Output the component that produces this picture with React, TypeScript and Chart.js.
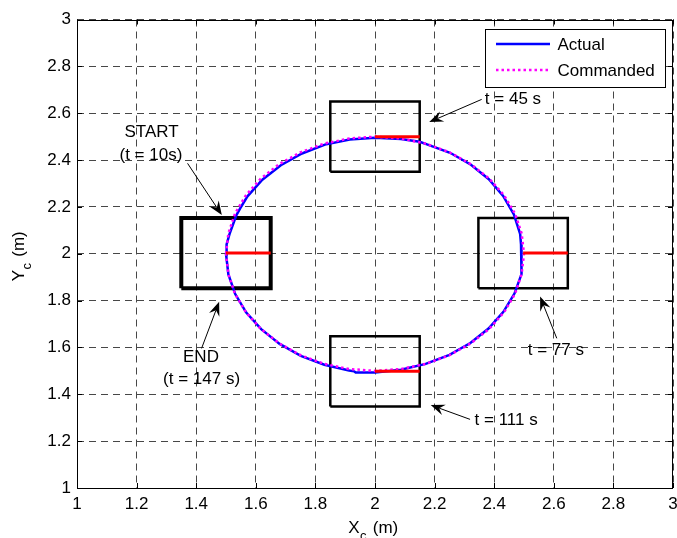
import React, { useEffect, useRef } from 'react';
import { Chart, registerables } from 'chart.js';

Chart.register(...registerables);

// ---------- data ----------
const xTickLabels = ['1', '1.2', '1.4', '1.6', '1.8', '2', '2.2', '2.4', '2.6', '2.8', '3'];
const yTickLabels = ['1', '1.2', '1.4', '1.6', '1.8', '2', '2.2', '2.4', '2.6', '2.8', '3'];

// commanded circular path
const commandedX = [1.5, 1.508, 1.530, 1.567, 1.617, 1.679, 1.75, 1.829, 1.913, 2.0, 2.087, 2.171, 2.25, 2.321, 2.383, 2.433, 2.470, 2.492, 2.5, 2.492, 2.470, 2.433, 2.383, 2.321, 2.25, 2.171, 2.087, 2.0, 1.913, 1.829, 1.75, 1.679, 1.617, 1.567, 1.530, 1.508, 1.5];
const commandedY = [2.0, 2.087, 2.171, 2.25, 2.321, 2.383, 2.433, 2.470, 2.492, 2.5, 2.492, 2.470, 2.433, 2.383, 2.321, 2.25, 2.171, 2.087, 2.0, 1.913, 1.829, 1.75, 1.679, 1.617, 1.567, 1.530, 1.508, 1.5, 1.508, 1.530, 1.567, 1.617, 1.679, 1.75, 1.829, 1.913, 2.0];

// actual measured path
const actualX = [1.500, 1.502, 1.512, 1.535, 1.548, 1.572, 1.622, 1.684, 1.755, 1.832, 1.915, 2.000, 2.087, 2.150, 2.172, 2.252, 2.322, 2.382, 2.430, 2.466, 2.487, 2.490, 2.492, 2.493, 2.490, 2.468, 2.431, 2.381, 2.320, 2.250, 2.170, 2.087, 2.000, 1.935, 1.930, 1.913, 1.830, 1.751, 1.680, 1.618, 1.568, 1.531, 1.508, 1.500];
const actualY = [1.995, 2.040, 2.085, 2.165, 2.195, 2.245, 2.316, 2.378, 2.428, 2.466, 2.488, 2.495, 2.490, 2.478, 2.468, 2.431, 2.380, 2.318, 2.247, 2.168, 2.085, 2.040, 2.000, 1.960, 1.913, 1.830, 1.752, 1.681, 1.619, 1.568, 1.530, 1.505, 1.493, 1.493, 1.498, 1.502, 1.526, 1.564, 1.615, 1.678, 1.749, 1.828, 1.912, 2.000];

// robot poses at the marked times (t = 10/147, 45, 77, 111 s)
const poseX = [1.5, 2.0, 2.497, 2.0];
const poseY = [2.003, 2.5, 2.003, 1.498];
const poseHalfSize = 0.15;

// annotation texts (data coordinates, centred)
const annoText = ['START', '(t = 10s)', 't = 45 s', 't = 77 s', 't = 111 s', 'END', '(t = 147 s)'];
const annoX = [1.25, 1.248, 2.463, 2.607, 2.440, 1.416, 1.418];
const annoY = [2.520, 2.419, 2.661, 1.589, 1.290, 1.558, 1.464];

// annotation arrows (tail -> head), data coordinates
const arrowTailX = [1.371, 2.358, 2.610, 2.319, 1.418];
const arrowTailY = [2.386, 2.659, 1.639, 1.293, 1.596];
const arrowHeadX = [1.486, 2.182, 2.554, 2.187, 1.477];
const arrowHeadY = [2.165, 2.562, 1.817, 1.354, 1.795];

const legendLabels = ['Actual', 'Commanded'];

const FONT = "'Liberation Sans', Arial, Helvetica, sans-serif";

const zip = (xs: number[], ys: number[]) => xs.map((x, i) => ({ x, y: ys[i] }));

function squarePts(cx: number, cy: number, h: number) {
  return [
    { x: cx - h, y: cy - h },
    { x: cx + h, y: cy - h },
    { x: cx + h, y: cy + h },
    { x: cx - h, y: cy + h },
    { x: cx - h, y: cy - h },
  ];
}

const overlayPlugin = {
  id: 'overlay',
  afterDraw(chart: any) {
    const { ctx, chartArea: a } = chart;
    const xs = chart.scales.x;
    const ys = chart.scales.y;
    ctx.save();
    ctx.setLineDash([]);

    // frame
    ctx.strokeStyle = '#000';
    ctx.lineWidth = 1;
    ctx.strokeRect(Math.round(a.left) + 0.5, Math.round(a.top) + 0.5, Math.round(a.right - a.left) - 1, Math.round(a.bottom - a.top) - 1);

    // inward ticks
    const tl = 5;
    ctx.beginPath();
    xs.ticks.forEach((t: any) => {
      const px = Math.round(xs.getPixelForValue(t.value)) + 0.5;
      ctx.moveTo(px, a.bottom); ctx.lineTo(px, a.bottom - tl);
      ctx.moveTo(px, a.top); ctx.lineTo(px, a.top + tl);
    });
    ys.ticks.forEach((t: any) => {
      const py = Math.round(ys.getPixelForValue(t.value)) + 0.5;
      ctx.moveTo(a.left, py); ctx.lineTo(a.left + tl, py);
      ctx.moveTo(a.right, py); ctx.lineTo(a.right - tl, py);
    });
    ctx.stroke();

    // annotation texts
    ctx.fillStyle = '#000';
    ctx.font = `17px ${FONT}`;
    ctx.textAlign = 'center';
    ctx.textBaseline = 'middle';
    annoText.forEach((s, i) => {
      ctx.fillText(s, xs.getPixelForValue(annoX[i]), ys.getPixelForValue(annoY[i]));
    });

    // arrows
    arrowTailX.forEach((_, i) => {
      const x0 = xs.getPixelForValue(arrowTailX[i]);
      const y0 = ys.getPixelForValue(arrowTailY[i]);
      const x1 = xs.getPixelForValue(arrowHeadX[i]);
      const y1 = ys.getPixelForValue(arrowHeadY[i]);
      const ang = Math.atan2(y1 - y0, x1 - x0);
      const L = 14, W = 5.5, N = 9;
      ctx.lineWidth = 1;
      ctx.strokeStyle = '#000';
      ctx.beginPath();
      ctx.moveTo(x0, y0);
      ctx.lineTo(x1 - N * Math.cos(ang), y1 - N * Math.sin(ang));
      ctx.stroke();
      const bx = x1 - L * Math.cos(ang), by = y1 - L * Math.sin(ang);
      const nx = -Math.sin(ang), ny = Math.cos(ang);
      ctx.beginPath();
      ctx.moveTo(x1, y1);
      ctx.lineTo(bx + W * nx, by + W * ny);
      ctx.lineTo(x1 - N * Math.cos(ang), y1 - N * Math.sin(ang));
      ctx.lineTo(bx - W * nx, by - W * ny);
      ctx.closePath();
      ctx.fill();
    });

    // legend
    const lx = a.right - 188, ly = a.top + 9.5, lw = 179.5, lh = 58;
    ctx.fillStyle = '#fff';
    ctx.fillRect(lx, ly, lw, lh);
    ctx.strokeStyle = '#000';
    ctx.lineWidth = 1;
    ctx.strokeRect(Math.round(lx) + 0.5, Math.round(ly) + 0.5, Math.round(lw), Math.round(lh));
    const rows = [ly + 15, ly + 41];
    ctx.lineWidth = 2.5;
    ctx.strokeStyle = '#0000ff';
    ctx.beginPath(); ctx.moveTo(lx + 11, rows[0]); ctx.lineTo(lx + 65, rows[0]); ctx.stroke();
    ctx.strokeStyle = '#ff00ff';
    ctx.setLineDash([2.5, 3]);
    ctx.beginPath(); ctx.moveTo(lx + 11, rows[1]); ctx.lineTo(lx + 65, rows[1]); ctx.stroke();
    ctx.setLineDash([]);
    ctx.fillStyle = '#000';
    ctx.textAlign = 'left';
    ctx.textBaseline = 'middle';
    legendLabels.forEach((s, i) => ctx.fillText(s, lx + 72.5, rows[i] + 1));

    // axis titles with subscripts
    const drawTitle = (main: string, sub: string, rest: string) => {
      ctx.font = `17px ${FONT}`;
      const w1 = ctx.measureText(main).width;
      const w3 = ctx.measureText(rest).width;
      ctx.font = `13px ${FONT}`;
      const w2 = ctx.measureText(sub).width + 1.5;
      const total = w1 + w2 + w3;
      let x = -total / 2;
      ctx.textAlign = 'left';
      ctx.textBaseline = 'alphabetic';
      ctx.font = `17px ${FONT}`;
      ctx.fillText(main, x, 0); x += w1 + 0.5;
      ctx.font = `13px ${FONT}`;
      ctx.fillText(sub, x, 6.5); x += w2;
      ctx.font = `17px ${FONT}`;
      ctx.fillText(rest, x, 0);
    };
    ctx.fillStyle = '#000';
    ctx.save();
    ctx.translate((a.left + a.right) / 2 - 2, 533);
    drawTitle('X', 'c', ' (m)');
    ctx.restore();
    ctx.save();
    ctx.translate(24, 256.5);
    ctx.rotate(-Math.PI / 2);
    drawTitle('Y', 'c', ' (m)');
    ctx.restore();

    ctx.restore();
  },
};

export default function App() {
  const ref = useRef<HTMLCanvasElement | null>(null);
  useEffect(() => {
    document.body.style.margin = '0';
    if (!ref.current) return;
    Chart.defaults.font.family = FONT;
    Chart.defaults.font.size = 17;
    Chart.defaults.color = '#000';

    const squares = poseX.map((px, i) => ({
      label: 'pose' + i,
      data: squarePts(px, poseY[i], poseHalfSize),
      borderColor: '#000',
      borderWidth: i === 0 ? 4 : 2.5,
      showLine: true,
      pointRadius: 0,
      fill: false,
      tension: 0,
      order: 3,
      borderJoinStyle: 'miter' as const,
    }));
    const headings = poseX.map((px, i) => ({
      label: 'heading' + i,
      data: [{ x: px, y: poseY[i] }, { x: px + poseHalfSize, y: poseY[i] }],
      borderColor: '#ff0000',
      borderWidth: 3,
      showLine: true,
      pointRadius: 0,
      fill: false,
      order: -1,
    }));

    const chart = new Chart(ref.current, {
      type: 'scatter',
      data: {
        datasets: [
          {
            label: 'Commanded',
            data: zip(commandedX, commandedY),
            borderColor: '#ff00ff',
            borderWidth: 2.5,
            borderDash: [2.5, 3],
            showLine: true,
            pointRadius: 0,
            fill: false,
            order: 0,
          },
          {
            label: 'Actual',
            data: zip(actualX, actualY),
            borderColor: '#0000ff',
            borderWidth: 2.5,
            showLine: true,
            pointRadius: 0,
            fill: false,
            order: 1,
          },
          ...squares,
          ...headings,
        ] as any,
      },
      options: {
        animation: false,
        responsive: false,
        events: [],
        layout: { padding: { top: 19.5, right: 4, left: 0, bottom: 0 } },
        plugins: { legend: { display: false }, tooltip: { enabled: false } },
        scales: {
          x: {
            type: 'linear',
            min: 1,
            max: 3,
            afterFit: (s: any) => { s.height = 50; s.paddingLeft = 0; s.paddingRight = 0; },
            ticks: {
              stepSize: 0.2,
              padding: 6,
              maxRotation: 0,
              autoSkip: false,
              font: { size: 17, family: FONT },
              color: '#000',
              callback: (v: any) => xTickLabels[Math.round((Number(v) - 1) / 0.2)] ?? '',
            },
            grid: { color: 'rgba(0,0,0,0.72)', lineWidth: 1, drawTicks: false },
            border: { display: false, dash: [7, 5] },
          },
          y: {
            type: 'linear',
            min: 1,
            max: 3,
            afterFit: (s: any) => { s.width = 77; s.paddingTop = 0; s.paddingBottom = 0; },
            ticks: {
              stepSize: 0.2,
              padding: 6,
              autoSkip: false,
              font: { size: 17, family: FONT },
              color: '#000',
              callback: (v: any) => yTickLabels[Math.round((Number(v) - 1) / 0.2)] ?? '',
            },
            grid: { color: 'rgba(0,0,0,0.72)', lineWidth: 1, drawTicks: false },
            border: { display: false, dash: [7, 5] },
          },
        },
      },
      plugins: [overlayPlugin],
    } as any);
    return () => chart.destroy();
  }, []);

  return (
    <div style={{ position: 'absolute', left: 0, top: 0, width: 677, height: 538, background: '#fff' }}>
      <canvas ref={ref} width={677} height={538} style={{ width: 677, height: 538, display: 'block' }} />
    </div>
  );
}
